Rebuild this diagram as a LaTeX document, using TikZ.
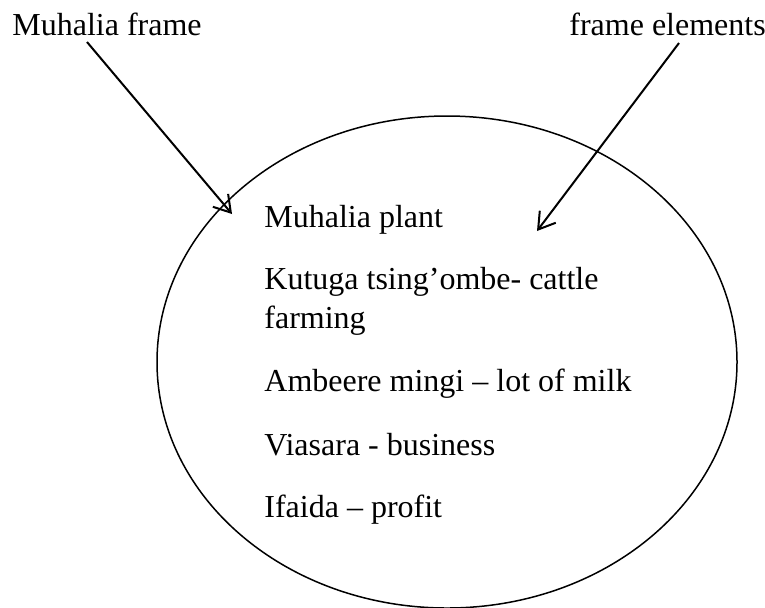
\documentclass[tikz,border=0pt]{standalone}
\usepackage{fontspec}
\setmainfont{Liberation Serif}
\usetikzlibrary{arrows.meta,shapes.geometric}
\begin{document}
\begin{tikzpicture}[x=0.5pt,y=-0.5pt,
  lbl/.style={anchor=base west,inner sep=0pt,font=\fontsize{16}{19}\selectfont},
  pointer/.style={line width=1pt,-{Straight Barb[length=8pt,width=10pt,line width=1pt]}},
  frameellipse/.style={draw,ellipse,line width=0.75pt,inner sep=0pt,minimum width=290pt,minimum height=246pt}]
\useasboundingbox (0,0) rectangle (765,607);
\node[frameellipse] (E) at (447,362) {};
\node[lbl] (t1) at (12,35) {Muhalia frame};
\node[lbl] (t2) at (569,35) {frame elements};
\node[lbl] (i1) at (264,227) {Muhalia plant};
\node[lbl] (i2) at (264,289) {Kutuga tsing’ombe- cattle};
\node[lbl] (i3) at (264,328) {farming};
\node[lbl] (i4) at (264,391) {Ambeere mingi – lot of milk};
\node[lbl] (i5) at (264,455) {Viasara - business};
\node[lbl] (i6) at (264,517) {Ifaida – profit};
\coordinate (s1) at (87,42);
\coordinate (e1) at (232,214);
\coordinate (s2) at (679,43);
\coordinate (e2) at (537,231);
\draw[pointer] (s1) -- (e1);
\draw[pointer] (s2) -- (e2);
\end{tikzpicture}
\end{document}
